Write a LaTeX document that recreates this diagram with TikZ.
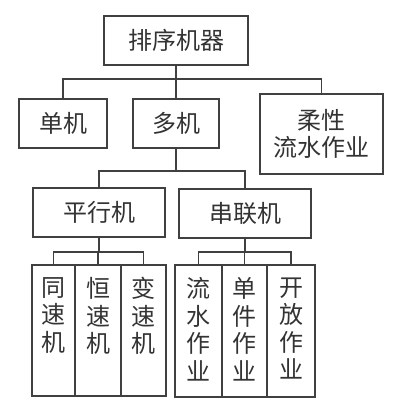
\documentclass[tikz,border=0pt]{standalone}
\usepackage{fontspec}
\setmainfont{Noto Sans CJK SC}
\begin{document}
\begin{tikzpicture}[x=1pt,y=-1pt,
  box/.style={draw=black!75, line width=1.3pt, inner sep=0pt, text=black!80,
    font=\fontsize{24}{27.5}\selectfont, align=center},
  leaftext/.style={anchor=north, inner sep=0pt, text=black!80, yshift=-13pt,
    font=\fontsize{24}{27.5}\selectfont, align=center},
  conn/.style={draw=black!75, line width=1.3pt}]
\useasboundingbox (0,0) rectangle (400,420);
\node[box, minimum width=144pt, minimum height=49pt] (top) at (176,40.5) {排序机器};
\node[box, minimum width=88pt, minimum height=49pt] (dan) at (63,123.5) {单机};
\node[box, minimum width=86pt, minimum height=49pt] (duo) at (176,123.5) {多机};
\node[box, minimum width=123pt, minimum height=80pt] (rou) at (321.5,134) {柔性\\流水作业};
\node[box, minimum width=132pt, minimum height=49pt] (px) at (99,212.5) {平行机};
\node[box, minimum width=132pt, minimum height=49pt] (cl) at (245,213.5) {串联机};
\node[box, minimum width=43pt, minimum height=131pt] (l1) at (53.5,330.5) {};
\node[box, minimum width=46pt, minimum height=131pt] (l2) at (98,330.5) {};
\node[box, minimum width=45pt, minimum height=131pt] (l3) at (143.5,330.5) {};
\node[box, minimum width=47pt, minimum height=132pt] (r1) at (198.5,331) {};
\node[box, minimum width=45pt, minimum height=132pt] (r2) at (244.5,331) {};
\node[box, minimum width=48pt, minimum height=132pt] (r3) at (291,331) {};
\node[leaftext] (t1) at (l1.north) {同\\速\\机};
\node[leaftext] (t2) at (l2.north) {恒\\速\\机};
\node[leaftext] (t3) at (l3.north) {变\\速\\机};
\node[leaftext] (t4) at (r1.north) {流\\水\\作\\业};
\node[leaftext] (t5) at (r2.north) {单\\件\\作\\业};
\node[leaftext] (t6) at (r3.north) {开\\放\\作\\业};
\coordinate (j1) at (176,79);
\coordinate (j2) at (176,171);
\coordinate (j3) at (99,252);
\coordinate (j4) at (245,252);
\draw[conn] (top.south) -- (j1);
\draw[conn] (j1) -| (dan.north);
\draw[conn] (j1) -| (rou.north);
\draw[conn] (j1) -- (duo.north);
\draw[conn] (duo.south) -- (j2);
\draw[conn] (j2) -| (px.north);
\draw[conn] (j2) -| (cl.north);
\draw[conn] (px.south) -- (j3);
\draw[conn] (j3) -| (l1.north);
\draw[conn] (j3) -| (l3.north);
\draw[conn] (j3) -| (l2.north);
\draw[conn] (cl.south) -- (j4);
\draw[conn] (j4) -| (r1.north);
\draw[conn] (j4) -| (r3.north);
\draw[conn] (j4) -| (r2.north);
\end{tikzpicture}
\end{document}
